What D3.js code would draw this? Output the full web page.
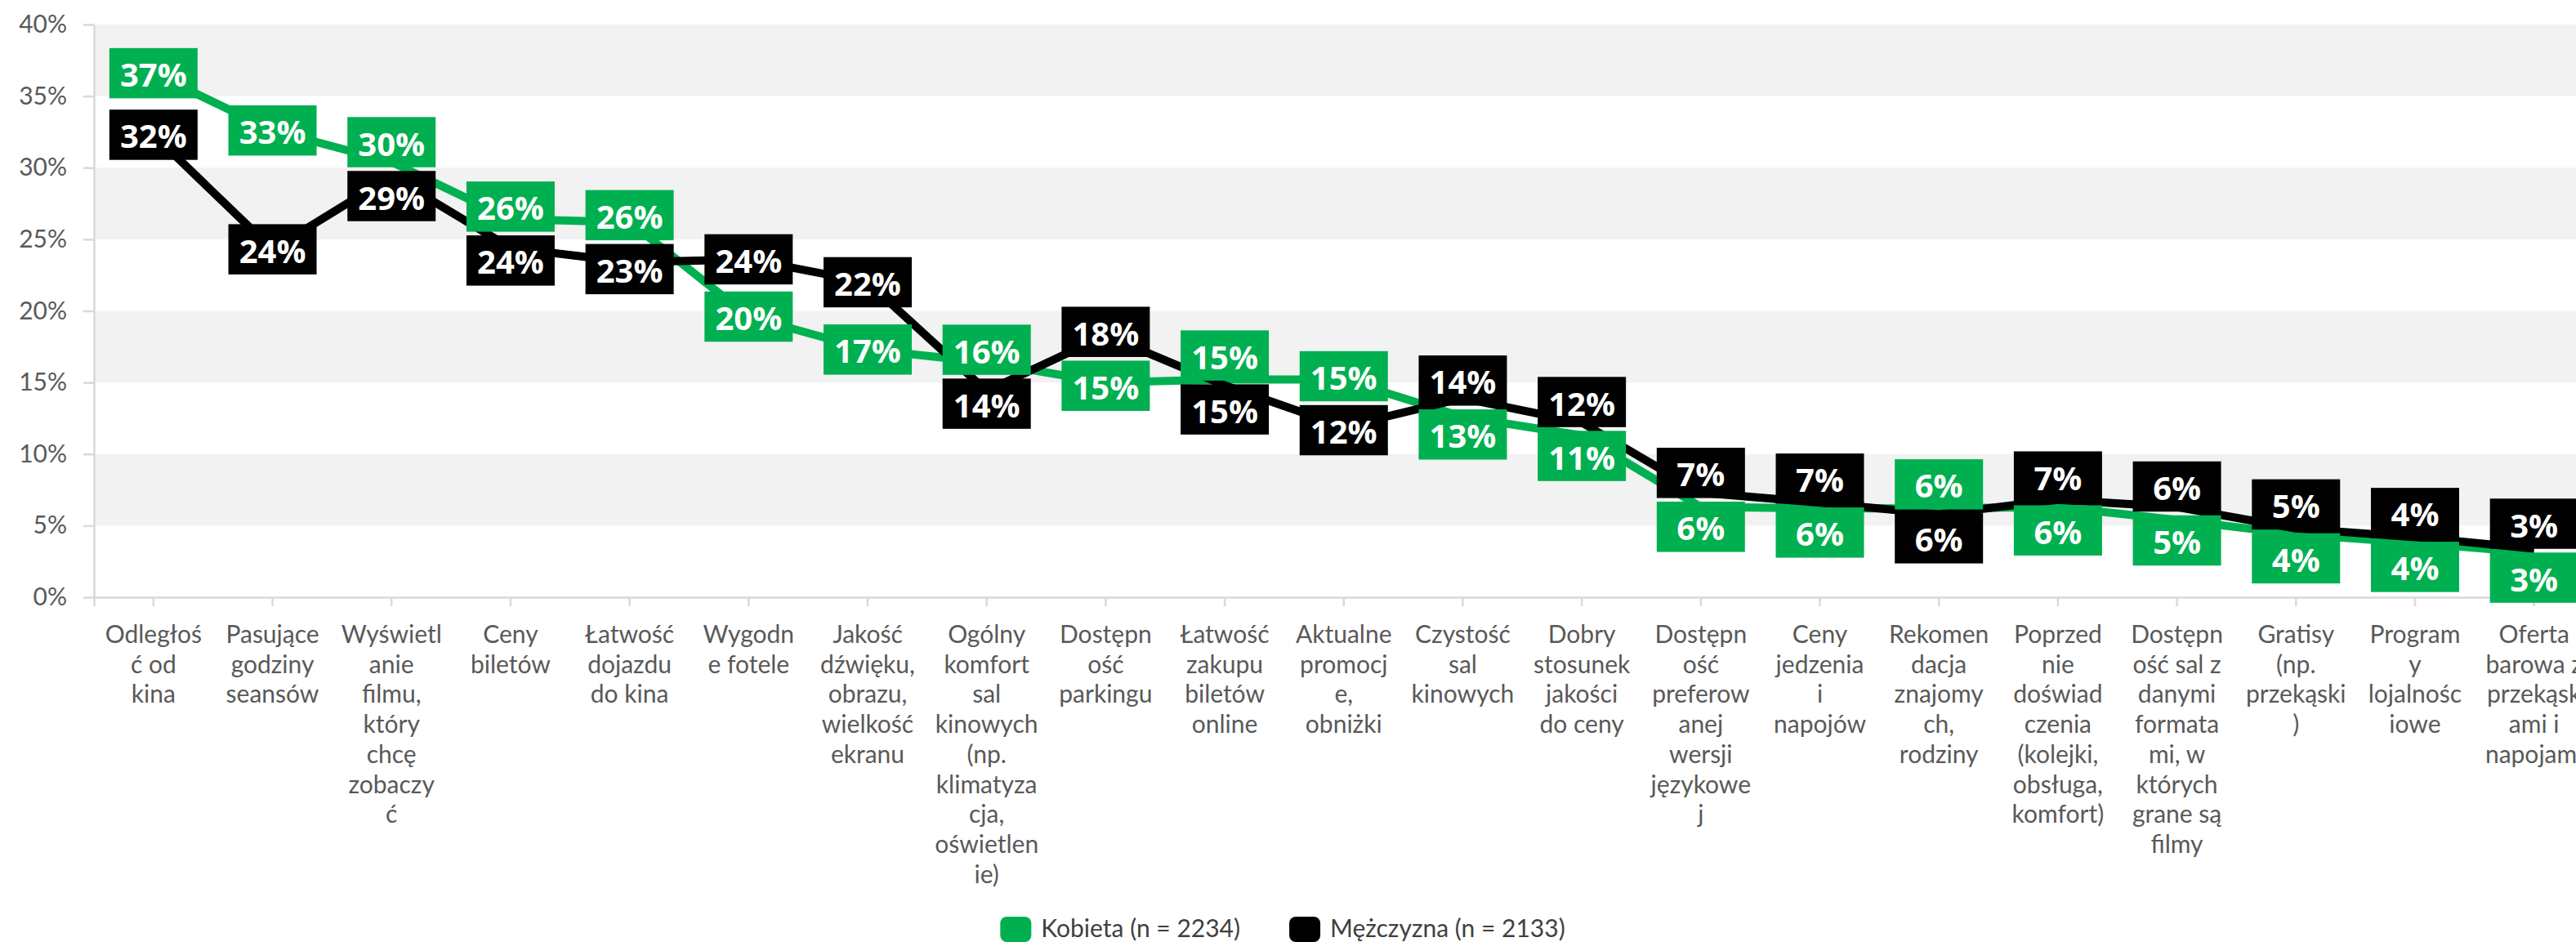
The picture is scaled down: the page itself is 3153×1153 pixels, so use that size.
<!DOCTYPE html>
<html lang="pl">
<head>
<meta charset="utf-8">
<script src="https://cdn.jsdelivr.net/npm/d3@7"></script>
<style>
  html, body { margin: 0; padding: 0; background: #fff; overflow: hidden; }
  svg { display: block; }
</style>
</head>
<body>
<svg id="chart" width="3153" height="1153"></svg>
<script>
// Czynniki wyboru kina — odsetek wskazań wg płci
// (etykiety kategorii łamane w wierszach tak jak w układzie wykresu)
const categories = [
  ["Odległoś", "ć od", "kina"],
  ["Pasujące", "godziny", "seansów"],
  ["Wyświetl", "anie", "filmu,", "który", "chcę", "zobaczy", "ć"],
  ["Ceny", "biletów"],
  ["Łatwość", "dojazdu", "do kina"],
  ["Wygodn", "e fotele"],
  ["Jakość", "dźwięku,", "obrazu,", "wielkość", "ekranu"],
  ["Ogólny", "komfort", "sal", "kinowych", "(np.", "klimatyza", "cja,", "oświetlen", "ie)"],
  ["Dostępn", "ość", "parkingu"],
  ["Łatwość", "zakupu", "biletów", "online"],
  ["Aktualne", "promocj", "e,", "obniżki"],
  ["Czystość", "sal", "kinowych"],
  ["Dobry", "stosunek", "jakości", "do ceny"],
  ["Dostępn", "ość", "preferow", "anej", "wersji", "językowe", "j"],
  ["Ceny", "jedzenia", "i", "napojów"],
  ["Rekomen", "dacja", "znajomy", "ch,", "rodziny"],
  ["Poprzed", "nie", "doświad", "czenia", "(kolejki,", "obsługa,", "komfort)"],
  ["Dostępn", "ość sal z", "danymi", "formata", "mi, w", "których", "grane są", "filmy"],
  ["Gratisy", "(np.", "przekąski", ")"],
  ["Program", "y", "lojalnośc", "iowe"],
  ["Oferta", "barowa z", "przekąsk", "ami i", "napojami"]
];

// wartości w procentach
const kobieta = [36.6, 32.6, 30.4, 26.4, 26.2, 19.6, 17.3, 16.4, 15.0, 15.2, 15.2, 12.6, 11.3, 6.3, 6.2, 6.2, 6.3, 5.4, 4.4, 3.8, 3.1];
const mezczyzna = [32.3, 24.3, 29.4, 24.4, 23.4, 23.6, 22.0, 14.4, 18.3, 14.8, 11.9, 13.9, 12.2, 7.3, 6.6, 5.8, 6.8, 6.3, 4.8, 4.2, 3.4];

const seriesNames = ["Kobieta (n = 2234)", "Mężczyzna (n = 2133)"];
const seriesColors = ["#00B050", "#000000"];

const yTicks = [0, 5, 10, 15, 20, 25, 30, 35, 40];

const W = 3153, H = 1153;
const plot = { left: 115, right: 3174.5, top: 30, bottom: 731 };

const svg = d3.select("#chart");

const x = d3.scaleBand()
  .domain(d3.range(categories.length))
  .range([plot.left, plot.right])
  .paddingInner(0).paddingOuter(0);
const cx = i => x(i) + x.bandwidth() / 2;

const y = d3.scaleLinear().domain([0, 40]).range([plot.bottom, plot.top]);

const axisFont = "Lato, 'Open Sans', sans-serif";
const labelColor = "#595959";
const axisColor = "#d9d9d9";

// naprzemienne pasy tła
const bands = d3.range(yTicks.length - 1).map(i => [yTicks[i], yTicks[i + 1]]);
svg.append("g")
  .selectAll("rect")
  .data(bands.filter((b, i) => i % 2 === 1))
  .join("rect")
  .attr("x", plot.left)
  .attr("width", W - plot.left)
  .attr("y", d => y(d[1]))
  .attr("height", d => y(d[0]) - y(d[1]))
  .attr("fill", "#f2f2f2");

// oś Y
const yAxis = svg.append("g")
  .attr("transform", `translate(${plot.left},0)`)
  .call(d3.axisLeft(y)
    .tickValues(yTicks)
    .tickSize(13)
    .tickSizeOuter(0)
    .tickPadding(20)
    .tickFormat(d => d + "%"));
yAxis.select(".domain").attr("stroke", axisColor).attr("stroke-width", 2.5);
yAxis.selectAll(".tick line").attr("stroke", axisColor).attr("stroke-width", 2.5);
yAxis.selectAll(".tick text")
  .attr("fill", labelColor)
  .style("font-family", axisFont)
  .style("font-size", "30px");

// oś X
const xAxis = svg.append("g")
  .attr("transform", `translate(0,${plot.bottom})`)
  .call(d3.axisBottom(x)
    .tickSize(11)
    .tickSizeOuter(11)
    .tickFormat(""));
xAxis.select(".domain").attr("stroke", axisColor).attr("stroke-width", 2.5);
xAxis.selectAll(".tick line").attr("stroke", axisColor).attr("stroke-width", 2.5);

// etykiety kategorii, wieloliniowe
const lineH = 36.7;
const catLabels = svg.append("g")
  .selectAll("text")
  .data(categories)
  .join("text")
  .attr("x", (d, i) => cx(i))
  .attr("y", 787)
  .attr("text-anchor", "middle")
  .attr("fill", labelColor)
  .style("font-family", axisFont)
  .style("font-size", "30px");
catLabels.each(function (lines, i) {
  const t = d3.select(this);
  lines.forEach((ln, k) => {
    t.append("tspan").attr("x", cx(i)).attr("y", 787 + k * lineH).text(ln);
  });
});

// linie serii
const series = [kobieta, mezczyzna];
const line = d3.line().x((d, i) => cx(i)).y(d => y(d));
series.forEach((vals, s) => {
  svg.append("path")
    .datum(vals)
    .attr("d", line)
    .attr("fill", "none")
    .attr("stroke", seriesColors[s])
    .attr("stroke-width", 10)
    .attr("stroke-linejoin", "round");
});

// rozmieszczenie etykiet danych, bez nakładania się
const boxW = 108, boxH = 61.5, sep = 66;
const labelPos = categories.map((c, i) => {
  const yk = y(kobieta[i]), ym = y(mezczyzna[i]);
  if (Math.abs(yk - ym) >= sep) return [yk, ym];
  const mid = (yk + ym) / 2;
  return yk <= ym ? [mid - sep / 2, mid + sep / 2] : [mid + sep / 2, mid - sep / 2];
});

const fmt = v => d3.format(".0f")(v) + "%";
series.forEach((vals, s) => {
  const g = svg.append("g")
    .selectAll("g")
    .data(vals)
    .join("g")
    .attr("transform", (d, i) => `translate(${cx(i)},${labelPos[i][s]})`);
  g.append("rect")
    .attr("x", -boxW / 2)
    .attr("y", -boxH / 2)
    .attr("width", boxW)
    .attr("height", boxH)
    .attr("fill", seriesColors[s]);
  g.append("text")
    .attr("text-anchor", "middle")
    .attr("dominant-baseline", "central")
    .attr("y", 1)
    .attr("fill", "#fff")
    .style("font-family", "'Open Sans', 'Noto Sans', sans-serif")
    .style("font-weight", 700)
    .style("font-size", "40px")
    .text(d => fmt(d));
});

// legenda
const legend = svg.append("g");
const items = legend.selectAll("g")
  .data(seriesNames)
  .join("g");
items.append("rect")
  .attr("width", 38)
  .attr("height", 31)
  .attr("rx", 8)
  .attr("y", -25)
  .attr("fill", (d, i) => seriesColors[i]);
items.append("text")
  .attr("x", 50)
  .attr("fill", "#404040")
  .style("font-family", axisFont)
  .style("font-size", "30px")
  .text(d => d);
let offset = 0;
const widths = [];
items.each(function () {
  widths.push(this.getBBox().width);
});
items.attr("transform", (d, i) => {
  const t = `translate(${offset},0)`;
  offset += widths[i] + 60;
  return t;
});
const total = offset - 60;
legend.attr("transform", `translate(${1570 - total / 2},1147)`);
</script>
</body>
</html>
